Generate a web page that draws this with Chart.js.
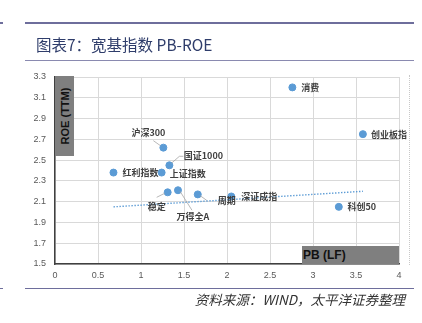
<!DOCTYPE html>
<html>
<head>
<meta charset="utf-8">
<script src="https://cdn.jsdelivr.net/npm/chart.js@4"></script>
<style>
  body { margin: 0; background: #fff; }
  #wrap { position: relative; width: 422px; height: 323px; overflow: hidden; }
  #c { position: absolute; left: 0; top: 0; }
  .rule { position: absolute; background: #6e6e9c; }
  #title { position: absolute; left: 36px; top: 33px; font: 15.5px "Noto Sans CJK SC"; color: #2f3d6b; white-space: nowrap; }
  #source { position: absolute; right: 17px; top: 289px; font: italic 13.5px "Noto Sans CJK SC"; color: #333; white-space: nowrap; }
  #ylab { position: absolute; left: 55px; top: 76px; width: 19px; height: 80px; background: #7f7f7f; }
  #ylab span { position: absolute; left: 50%; top: 50%; transform: translate(-50%, -50%) rotate(-90deg); font: bold 11px "Liberation Sans"; color: #111; white-space: nowrap; }
  #xlab { position: absolute; left: 302px; top: 246px; width: 97px; height: 18px; background: #7f7f7f; font: bold 12px "Liberation Sans"; color: #111; line-height: 18px; padding-left: 1px; box-sizing: border-box; }
  #dots { position: absolute; left: 409px; top: 75px; height: 190px; border-left: 1px dotted #c8c8c8; }
</style>
</head>
<body>
<div id="wrap">
  <canvas id="c" width="422" height="323"></canvas>
  <div class="rule" style="left:0;top:22px;width:3px;height:2px"></div>
  <div class="rule" style="left:25px;top:22px;width:389px;height:2px"></div>
  <div class="rule" style="left:25px;top:60px;width:389px;height:1px;background:#8a8ab0"></div>
  <div class="rule" style="left:0;top:288px;width:3px;height:1px"></div>
  <div class="rule" style="left:25px;top:288px;width:389px;height:1px"></div>
  <div id="title">图表7：宽基指数 PB-ROE</div>
  <div id="ylab"><span>ROE (TTM)</span></div>
  <div id="xlab">PB (LF)</div>
  <div id="dots"></div>
  <div id="source">资料来源：WIND，太平洋证券整理</div>
</div>
<script>
'use strict';

// 指数名称
const names = ['消费', '创业板指', '沪深300', '国证1000', '上证指数', '红利指数', '稳定', '万得全A', '周期', '深证成指', '科创50'];
// PB (LF)
const pb = [2.76, 3.58, 1.26, 1.33, 1.24, 0.68, 1.31, 1.43, 1.66, 2.05, 3.30];
// ROE (TTM)
const roe = [3.20, 2.75, 2.62, 2.45, 2.38, 2.38, 2.19, 2.21, 2.17, 2.15, 2.05];
// 趋势线 (两端)
const trendX = [0.68, 3.58];
const trendY = [2.05, 2.20];

const xTicks = [0, 0.5, 1, 1.5, 2, 2.5, 3, 3.5, 4];
const yTicks = [1.5, 1.7, 1.9, 2.1, 2.3, 2.5, 2.7, 2.9, 3.1, 3.3];

// label placement: [dx, dy] of text centre, leader line points
const labelPos = {
  '消费': { at: [18, 0] },
  '创业板指': { at: [26, 0] },
  '沪深300': { at: [-15, -15], line: [[-3, -2], [-10, -7]] },
  '国证1000': { at: [34, -10], line: [[2, -2], [10, -9], [14, -9]] },
  '上证指数': { at: [26, 1] },
  '红利指数': { at: [27, 0] },
  '稳定': { at: [-11, 14], line: [[-3, 1], [-11, 5]] },
  '万得全A': { at: [15, 26], line: [[2, 1], [14, 20]] },
  '周期': { at: [29, 6], line: [[2, 1], [9, 6]] },
  '深证成指': { at: [28, 0] },
  '科创50': { at: [23, 0] }
};

const pointLabels = {
  id: 'pointLabels',
  afterDatasetsDraw(chart) {
    const ctx = chart.ctx;
    const meta = chart.getDatasetMeta(0);
    ctx.save();
    ctx.font = 'bold 9px "Noto Sans CJK SC"';
    ctx.fillStyle = '#404040';
    ctx.textAlign = 'center';
    ctx.textBaseline = 'middle';
    ctx.strokeStyle = '#a6a6a6';
    ctx.lineWidth = 0.8;
    meta.data.forEach((pt, i) => {
      const p = labelPos[names[i]];
      if (p.line) {
        ctx.beginPath();
        p.line.forEach((o, j) => {
          if (j === 0) ctx.moveTo(pt.x + o[0], pt.y + o[1]);
          else ctx.lineTo(pt.x + o[0], pt.y + o[1]);
        });
        ctx.stroke();
      }
      ctx.fillText(names[i], pt.x + p.at[0], pt.y + p.at[1]);
    });
    ctx.restore();
  }
};

const tickFont = { family: '"Liberation Sans"', size: 9 };

new Chart(document.getElementById('c'), {
  type: 'scatter',
  data: {
    datasets: [{
      data: pb.map((x, i) => ({ x: x, y: roe[i] })),
      backgroundColor: '#5b9bd5',
      borderColor: '#5b9bd5',
      pointRadius: 3.5,
      pointHoverRadius: 3.5
    }, {
      type: 'line',
      data: trendX.map((x, i) => ({ x: x, y: trendY[i] })),
      borderColor: '#5b9bd5',
      borderWidth: 1.4,
      borderDash: [1.4, 1.6],
      pointRadius: 0,
      fill: false
    }]
  },
  options: {
    responsive: false,
    animation: false,
    devicePixelRatio: 1,
    layout: { padding: { left: 0, top: 77, right: 23, bottom: 39 } },
    plugins: { legend: { display: false }, tooltip: { enabled: false } },
    scales: {
      x: {
        type: 'linear',
        min: 0,
        max: 4,
        afterBuildTicks: s => { s.ticks = xTicks.map(v => ({ value: v })); },
        afterFit: s => { s.height = 20; },
        ticks: { font: tickFont, color: '#595959', padding: 6, callback: v => String(v) },
        grid: { color: '#d9d9d9', drawTicks: false },
        border: { color: '#404040', width: 1.5 }
      },
      y: {
        min: 1.5,
        max: 3.3,
        afterBuildTicks: s => { s.ticks = yTicks.map(v => ({ value: v })); },
        afterFit: s => { s.width = 55; },
        ticks: { font: tickFont, color: '#595959', padding: 9, callback: v => v.toFixed(1) },
        grid: { color: '#d9d9d9', drawTicks: false },
        border: { color: '#404040', width: 1.5 }
      }
    }
  },
  plugins: [pointLabels]
});
</script>
</body>
</html>
